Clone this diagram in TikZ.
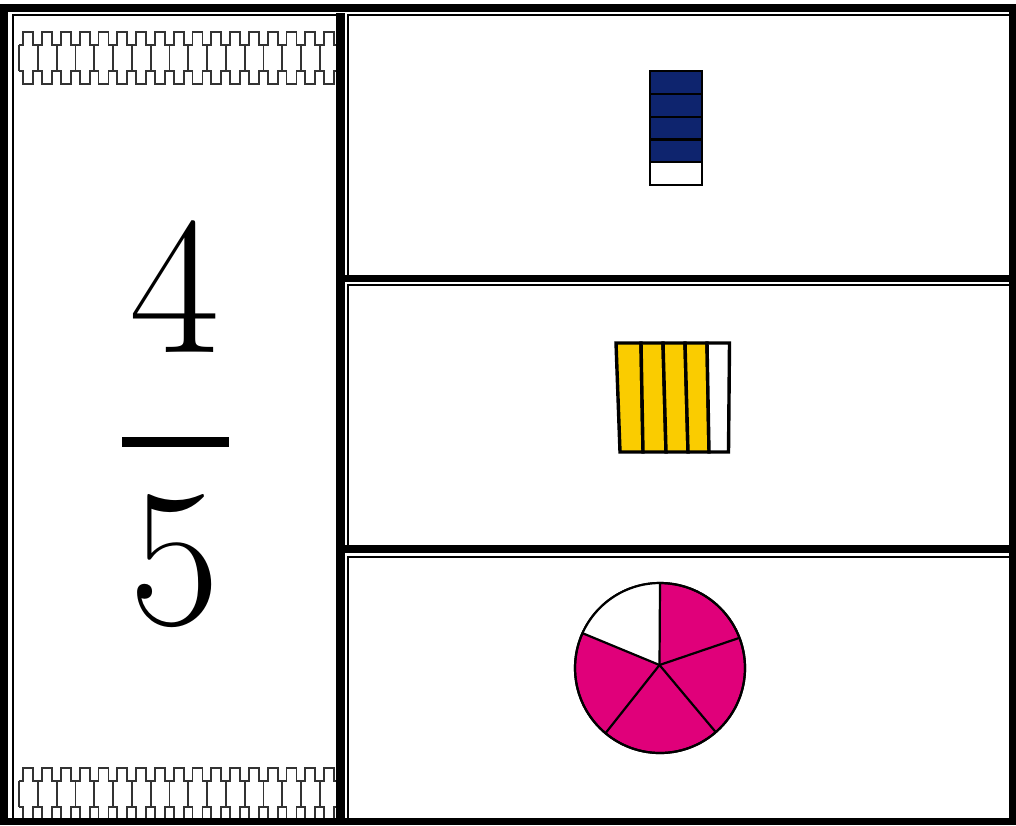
\documentclass[tikz,border=0pt]{standalone}
\usepackage{fontspec}
\usepackage{tikz}
\definecolor{navy}{RGB}{14,36,110}
\definecolor{gold}{RGB}{250,204,0}
\definecolor{rosy}{RGB}{224,0,122}
\begin{document}
\begin{tikzpicture}[x=1pt,y=-1pt,
  rule/.style={fill=black},
  hair/.style={draw=black,line width=2pt},
  chain/.style={draw=black!80,line width=1.7pt},
  piece/.style={draw=black,line width=2.2pt},
  digit/.style={anchor=base,inner sep=0pt,font=\fontsize{197}{200}\selectfont}]
\useasboundingbox (0,0) rectangle (1016,825);
% chain borders of the left cell:
\begin{scope}
\clip (18,0) rectangle (337,825);
\foreach \t in {32,768}{
  \foreach \k in {0,...,17}{
    \pgfmathsetmacro\c{19.1+18.8*\k}
    \path[chain] (\c,\t+13) -- (\c+4.2,\t+13) -- (\c+4.2,\t) -- (\c+14.2,\t) -- (\c+14.2,\t+13) -- (\c+18.8,\t+13);
    \path[chain] (\c,\t+39) -- (\c+4.2,\t+39) -- (\c+4.2,\t+52) -- (\c+14.2,\t+52) -- (\c+14.2,\t+39) -- (\c+18.8,\t+39);
    \path[chain] (\c,\t+13) -- (\c,\t+39);
  }
}
\end{scope}
% frame:
\path[rule] (0,4) rectangle (1016,12);
\path[rule] (0,4) rectangle (8,825);
\path[rule] (1009,12) rectangle (1016,825);
\path[rule] (0,818) rectangle (1016,825);
\path[hair] (13,818) -- (13,15) -- (337,15);
\path[rule] (336,13) rectangle (345,825);
\path[hair] (348,275) -- (348,15) -- (1009,15);
\path[rule] (345,275) rectangle (1009,282);
\path[hair] (348,545) -- (348,285) -- (1009,285);
\path[rule] (345,545) rectangle (1009,553);
\path[hair] (348,818) -- (348,557) -- (1009,557);
% fraction:
\node[digit] (num) at (175,352) {4};
\path[rule] (122,437) rectangle (229,447);
\node[digit] (den) at (175,624) {5};
% bar:
\foreach \i in {0,...,3}
  \path[piece,fill=navy] (650,71+22.8*\i) rectangle (702,93.8+22.8*\i);
\path[piece,fill=white] (650,162.2) rectangle (702,185);
% strips:
\foreach \a/\b/\c/\d in {616/641/620/643, 641/663/643/666, 663/685/666/688, 685/707/688/709}
  \path[piece,line width=3.4pt,fill=gold] (\a,343) -- (\b,343) -- (\d,452) -- (\c,452) -- cycle;
\path[piece,line width=3.4pt,fill=white] (707,343) -- (729.5,343) -- (728.5,452) -- (709,452) -- cycle;
% pie:
\coordinate (pc) at (660,668);
\coordinate (hub) at (659.5,665);
\path[piece,fill=rosy] (pc) circle [radius=85];
\foreach \a [count=\i] in {-90,-20.8,49,129.9,204.2}
  \coordinate (rim\i) at ([shift={(\a:85)}]pc);
\path[fill=white] (hub) -- (rim1) arc[start angle=-90,end angle=-155.8,radius=85] -- cycle;
\path[piece] (pc) circle [radius=85];
\foreach \i in {1,...,5}
  \path[piece] (hub) -- (rim\i);
\end{tikzpicture}
\end{document}
